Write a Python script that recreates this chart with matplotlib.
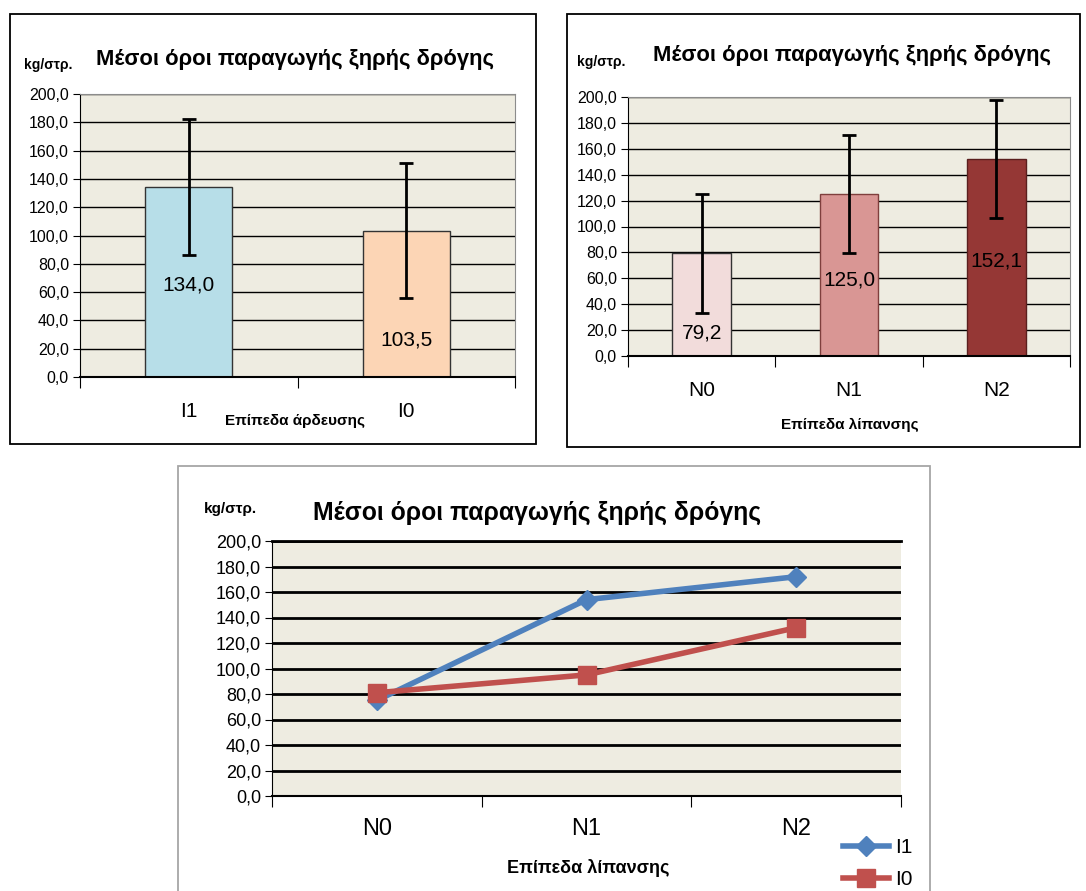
import numpy as np
import matplotlib.pyplot as plt
from matplotlib.patches import Rectangle

W, H = 1086, 891

# dades
irr_cat = ['I1', 'I0']
irr_mean = [134.0, 103.5]
irr_err = [48.0, 47.5]

fert_cat = ['N0', 'N1', 'N2']
fert_mean = [79.2, 125.0, 152.1]
fert_err = [46.0, 45.5, 45.5]

line_i1 = [75.0, 154.0, 172.0]
line_i0 = [81.0, 95.0, 132.0]

title = 'Μέσοι όροι παραγωγής ξηρής δρόγης'
ytick_vals = np.arange(0, 201, 20)
ytick_lbl = [f'{v:.1f}'.replace('.', ',') for v in ytick_vals]

plt.rcParams['font.family'] = ['Liberation Sans', 'DejaVu Sans']
narrow = ['Liberation Sans Narrow', 'Liberation Sans', 'DejaVu Sans']
bg = '#EEECE1'

fig = plt.figure(figsize=(W / 100, H / 100), dpi=100)


def px_axes(x0, y0, x1, y1):
    return fig.add_axes([x0 / W, 1 - y1 / H, (x1 - x0) / W, (y1 - y0) / H])


def px_text(x, y, s, **kw):
    fig.text(x / W, 1 - y / H, s, **kw)


def frame(x0, y0, x1, y1, color):
    fig.patches.append(Rectangle((x0 / W, 1 - y1 / H), (x1 - x0) / W, (y1 - y0) / H,
                                 transform=fig.transFigure, fill=False,
                                 edgecolor=color, linewidth=1.3))


def style_axes(ax, ncat, grid_lw=1.0, tick_fs=11.5, fam=None):
    ax.set_facecolor(bg)
    ax.set_ylim(0, 200)
    ax.set_xlim(0, ncat)
    ax.set_yticks(ytick_vals)
    ax.set_yticklabels(ytick_lbl, fontsize=tick_fs, family=fam)
    for v in ytick_vals[1:]:
        ax.axhline(v, color='black', linewidth=grid_lw, zorder=1)
    ax.spines['left'].set_color('black')
    ax.spines['bottom'].set_color('black')
    ax.spines['bottom'].set_linewidth(1.5)
    ax.spines['top'].set_color('#8C8C8C')
    ax.spines['right'].set_color('#8C8C8C')
    ax.set_xticks(np.arange(ncat + 1))
    ax.set_xticklabels([])
    ax.set_xticks(np.arange(ncat) + 0.5, minor=True)
    ax.tick_params(axis='x', which='major', length=8, direction='out')
    ax.tick_params(axis='x', which='minor', length=0, labelsize=14, pad=18)
    ax.tick_params(axis='y', length=5, direction='out', pad=3)


# --- grafik 1: epipeda ardeusis
frame(10, 14, 536, 444, 'black')
ax1 = px_axes(80, 94, 515, 377)
style_axes(ax1, 2)
x1 = np.arange(2) + 0.5
ax1.bar(x1, irr_mean, width=0.4, color=['#B7DEE8', '#FCD5B5'],
        edgecolor='#333333', linewidth=1, zorder=2)
ax1.errorbar(x1, irr_mean, yerr=irr_err, fmt='none', ecolor='black',
             elinewidth=2, capsize=5, capthick=2, zorder=3)
ax1.set_xticklabels(irr_cat, minor=True, fontsize=15)
for xi, v, ly in zip(x1, irr_mean, [65, 26]):
    ax1.text(xi, ly, f'{v:.1f}'.replace('.', ','), ha='center', va='center',
             fontsize=15, zorder=4)
px_text(295, 59, title, ha='center', va='center', fontsize=15.8,
        fontweight='bold', family=narrow)
px_text(48, 65, 'kg/στρ.', ha='center', va='center', fontsize=10, fontweight='bold')
px_text(295, 421, 'Επίπεδα άρδευσης', ha='center', va='center', fontsize=11,
        fontweight='bold')

# --- grafik 2: epipeda lipansis
frame(567, 14, 1080, 447, 'black')
ax2 = px_axes(628, 97, 1070, 356)
style_axes(ax2, 3)
x2 = np.arange(3) + 0.5
ax2.bar(x2, fert_mean, width=0.4, color=['#F2DCDB', '#D99694', '#953735'],
        edgecolor=['#333333', '#7F3F3D', '#5A1F1E'], linewidth=1, zorder=2)
ax2.errorbar(x2, fert_mean, yerr=fert_err, fmt='none', ecolor='black',
             elinewidth=2, capsize=5, capthick=2, zorder=3)
ax2.set_xticklabels(fert_cat, minor=True, fontsize=15)
for xi, v, ly in zip(x2, fert_mean, [18, 59, 73]):
    ax2.text(xi, ly, f'{v:.1f}'.replace('.', ','), ha='center', va='center',
             fontsize=15, zorder=4)
px_text(852, 55, title, ha='center', va='center', fontsize=15.8,
        fontweight='bold', family=narrow)
px_text(601, 62, 'kg/στρ.', ha='center', va='center', fontsize=10, fontweight='bold')
px_text(850, 425, 'Επίπεδα λίπανσης', ha='center', va='center', fontsize=11,
        fontweight='bold')

# --- grafik 3: grammes
frame(178, 466, 930, 900, '#A6A6A6')
ax3 = px_axes(272, 541, 901, 796)
style_axes(ax3, 3, grid_lw=2.0, tick_fs=13, fam=narrow)
ax3.spines['top'].set_visible(False)
ax3.spines['right'].set_visible(False)
ax3.axhline(200, color='black', linewidth=2.0, zorder=1, clip_on=False)
ax3.plot(x2, line_i1, color='#4F81BD', linewidth=4, marker='D', markersize=10,
         label='I1', zorder=3)
ax3.plot(x2, line_i0, color='#C0504D', linewidth=4, marker='s', markersize=13,
         label='I0', zorder=3)
ax3.set_xticklabels(fert_cat, minor=True, fontsize=17, family=narrow)
ax3.tick_params(axis='x', which='minor', pad=16)
ax3.legend(loc='upper left', bbox_to_anchor=(833 / W, 1 - 828 / H),
           bbox_transform=fig.transFigure, frameon=False, prop={'family': narrow, 'size': 15},
           handlelength=2.2, labelspacing=0.6, handletextpad=0.3, borderpad=0)
px_text(537, 513, title, ha='center', va='center', fontsize=17.8,
        fontweight='bold', family=narrow)
px_text(230, 509, 'kg/στρ.', ha='center', va='center', fontsize=11,
        fontweight='bold', family=narrow)
px_text(588, 868, 'Επίπεδα λίπανσης', ha='center', va='center', fontsize=13,
        fontweight='bold', family=narrow)

fig.savefig('out.png', dpi=100)
